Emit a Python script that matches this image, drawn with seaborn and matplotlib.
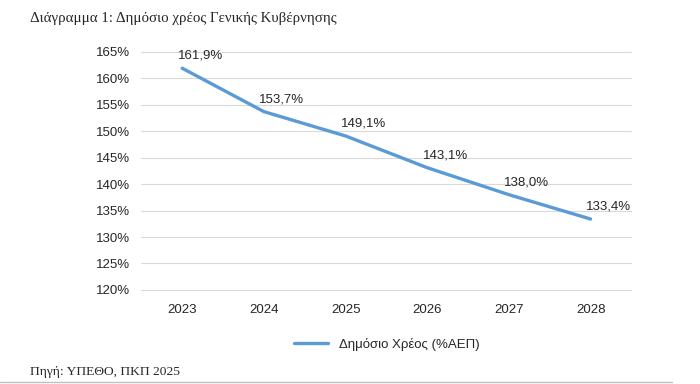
import seaborn as sns
import matplotlib.pyplot as plt
import pandas as pd
from matplotlib.ticker import FuncFormatter

# Data
years = ["2023", "2024", "2025", "2026", "2027", "2028"]
debt = [161.9, 153.7, 149.1, 143.1, 138.0, 133.4]
series_name = "Δημόσιο Χρέος (%ΑΕΠ)"

df = pd.DataFrame({"year": years, "debt": debt})

sns.set_style("white")
plt.rcParams["font.family"] = ["Liberation Sans", "DejaVu Sans"]

fig = plt.figure(figsize=(7, 3.84), dpi=100)
ax = fig.add_axes([0.202, 0.245, 0.7, 0.62])

sns.lineplot(data=df, x="year", y="debt", ax=ax, color="#5b9bd5",
             linewidth=2.4, label=series_name, sort=False)

# Value labels
for i, v in enumerate(debt):
    ax.annotate(f"{v:.1f}%".replace(".", ","), (i, v), xytext=(13, 9),
                textcoords="offset points", ha="center", va="center",
                fontsize=9.5, color="#262626")

ax.set_ylim(120, 165)
ax.set_xlim(-0.5, len(years) - 0.5)
ax.set_yticks(range(120, 166, 5))
ax.yaxis.set_major_formatter(FuncFormatter(lambda y, _: f"{y:.0f}%"))
ax.grid(axis="y", color="#d9d9d9", linewidth=0.8)
for gl in ax.get_ygridlines():
    gl.set_clip_on(False)
ax.set_axisbelow(True)
for s in ax.spines.values():
    s.set_visible(False)
ax.tick_params(axis="both", length=0, labelsize=9.5, colors="#262626")
ax.tick_params(axis="x", pad=10)
ax.tick_params(axis="y", pad=8)
ax.set_xlabel("")
ax.set_ylabel("")

ax.legend(loc="upper center", bbox_to_anchor=(0.5, -0.15), frameon=False,
          fontsize=9.5, handlelength=2.6)
for t in ax.get_legend().get_texts():
    t.set_color("#262626")

# Title and source
fig.text(0.043, 0.953, "Διάγραμμα 1: Δημόσιο χρέος Γενικής Κυβέρνησης",
         family=["Liberation Serif", "DejaVu Serif"], fontsize=10.7,
         va="center", ha="left")
fig.text(0.043, 0.032, "Πηγή: ΥΠΕΘΟ, ΠΚΠ 2025",
         family=["Liberation Serif", "DejaVu Serif"], fontsize=9.7,
         va="center", ha="left")
fig.add_artist(plt.Line2D([0, 0.96], [0.006, 0.006], color="#bfbfbf", linewidth=1))

fig.savefig("out.png", dpi=100)
